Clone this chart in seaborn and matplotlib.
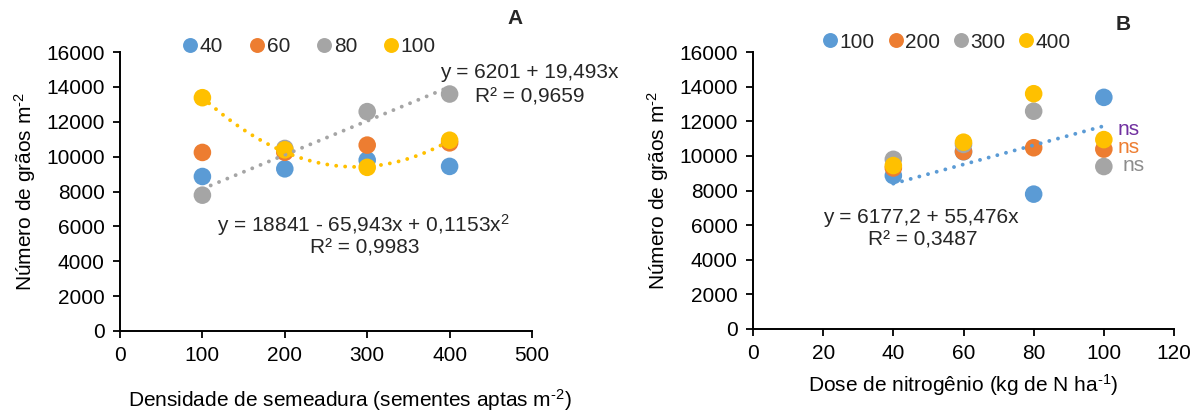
import numpy as np
import pandas as pd
import matplotlib
matplotlib.use("Agg")
import matplotlib.pyplot as plt
import seaborn as sns

# ---- data ----
densidades = [100, 200, 300, 400]          # sementes aptas m-2
doses_n = [40, 60, 80, 100]                # kg de N ha-1
# grains m-2; rows = densidade, cols = dose N
graos_d100 = [8860, 10240, 7790, 13380]
graos_d200 = [9300, 10250, 10470, 10390]
graos_d300 = [9800, 10660, 12580, 9385]
graos_d400 = [9440, 10790, 13590, 10940]

# regression equations shown in the figure
fitA_linear_dose80 = [6201, 19.493]             # a + b x
fitA_quad_dose100 = [18841, -65.943, 0.1153]     # a + b x + c x^2
fitB_linear_dens100 = [6177.2, 55.476]

colors = ["#5B9BD5", "#ED7D31", "#A5A5A5", "#FFC000"]

sns.set_theme(style="white")
plt.rcParams["font.family"] = ["Liberation Sans", "DejaVu Sans"]
plt.rcParams["mathtext.fontset"] = "custom"
plt.rcParams["mathtext.rm"] = "Liberation Sans"
plt.rcParams["mathtext.it"] = "Liberation Sans:italic"
plt.rcParams["mathtext.default"] = "regular"

mat = np.array([graos_d100, graos_d200, graos_d300, graos_d400])

rowsA = []
for j, n in enumerate(doses_n):
    for i, d in enumerate(densidades):
        rowsA.append({"x": d, "y": mat[i, j], "serie": str(n)})
dfA = pd.DataFrame(rowsA)

rowsB = []
for i, d in enumerate(densidades):
    for j, n in enumerate(doses_n):
        rowsB.append({"x": n, "y": mat[i, j], "serie": str(d)})
dfB = pd.DataFrame(rowsB)

W, H = 1193, 413
fig = plt.figure(figsize=(W / 100, H / 100), dpi=100)
axA = fig.add_axes([120 / W, 1 - 331 / H, 412 / W, 279 / H])
axB = fig.add_axes([753 / W, 1 - 329 / H, 421 / W, 277 / H])

FS = 15
SUP2 = r"$^{\text{-2}}$"
SUP1 = r"$^{\text{-1}}$"

def style_ax(ax, xmax, xstep):
    ax.set_ylim(0, 16000)
    ax.set_yticks(np.arange(0, 16001, 2000))
    ax.set_xlim(0, xmax)
    ax.set_xticks(np.arange(0, xmax + 1, xstep))
    for s in ["top", "right"]:
        ax.spines[s].set_visible(False)
    for s in ["left", "bottom"]:
        ax.spines[s].set_color("black")
        ax.spines[s].set_linewidth(1.4)
    ax.tick_params(axis="both", direction="out", length=5, width=1.3,
                   color="black", labelsize=FS, labelcolor="black",
                   left=True, bottom=True, pad=6)
    ax.grid(False)

dot = dict(lw=2.8, linestyle=(0, (0.01, 2.3)), dash_capstyle="round", zorder=4)

# ---- Panel A ----
sns.scatterplot(data=dfA, x="x", y="y", hue="serie", palette=colors,
                s=160, edgecolor="none", ax=axA, zorder=3)
style_ax(axA, 500, 100)
xa = np.linspace(densidades[0], densidades[-1], 100)
axA.plot(xa, fitA_linear_dose80[0] + fitA_linear_dose80[1] * xa, color=colors[2], **dot)
axA.plot(xa, fitA_quad_dose100[0] + fitA_quad_dose100[1] * xa + fitA_quad_dose100[2] * xa ** 2,
         color=colors[3], **dot)
axA.set_xlabel("Densidade de semeadura (sementes aptas m" + SUP2 + ")", fontsize=FS,
               color="black")
axA.xaxis.set_label_coords(0.558, -0.20)
axA.set_ylabel("Número de grãos m" + SUP2, fontsize=FS, color="black", labelpad=6)
axA.text(388, 14810, "y = 6201 + 19,493x", fontsize=FS, va="center", ha="left")
axA.text(431, 13430, "R² = 0,9659", fontsize=FS, va="center", ha="left")
axA.text(118, 6085, "y = 18841 - 65,943x + 0,1153x$^{2}$", fontsize=FS, va="center", ha="left")
axA.text(231, 4765, "R² = 0,9983", fontsize=FS, va="center", ha="left")
sns.move_legend(axA, "center left", bbox_to_anchor=(0.155, 1.018), ncol=4,
                frameon=False, title=None, fontsize=FS, handletextpad=0.15,
                handlelength=0.6, columnspacing=1.35, markerscale=0.85,
                borderaxespad=0, borderpad=0)
fig.text(515 / W, 1 - 18 / H, "A", fontsize=FS, fontweight="bold", ha="center", va="center")

# ---- Panel B ----
sns.scatterplot(data=dfB, x="x", y="y", hue="serie", palette=colors,
                s=160, edgecolor="none", ax=axB, zorder=3)
style_ax(axB, 120, 20)
xb = np.linspace(doses_n[0], doses_n[-1], 100)
axB.plot(xb, fitB_linear_dens100[0] + fitB_linear_dens100[1] * xb, color=colors[0], **dot)
axB.set_xlabel("Dose de nitrogênio (kg de N ha" + SUP1 + ")", fontsize=FS,
               color="black", labelpad=6)
axB.set_ylabel("Número de grãos m" + SUP2, fontsize=FS, color="black", labelpad=6)
axB.text(20, 6420, "y = 6177,2 + 55,476x", fontsize=FS, va="center", ha="left")
axB.text(32.8, 5150, "R² = 0,3487", fontsize=FS, va="center", ha="left")
axB.text(104, 11510, "ns", fontsize=FS, color="#7030A0", va="center", ha="left")
axB.text(104, 10470, "ns", fontsize=FS, color=colors[1], va="center", ha="left")
axB.text(105.2, 9430, "ns", fontsize=FS, color="#8C8C8C", va="center", ha="left")
sns.move_legend(axB, "center left", bbox_to_anchor=(0.169, 1.036), ncol=4,
                frameon=False, title=None, fontsize=FS, handletextpad=0.15,
                handlelength=0.6, columnspacing=0.7, markerscale=0.85,
                borderaxespad=0, borderpad=0)
fig.text(1123 / W, 1 - 25 / H, "B", fontsize=FS, fontweight="bold", ha="center", va="center")

fig.savefig("out.png", dpi=100, facecolor="white")
